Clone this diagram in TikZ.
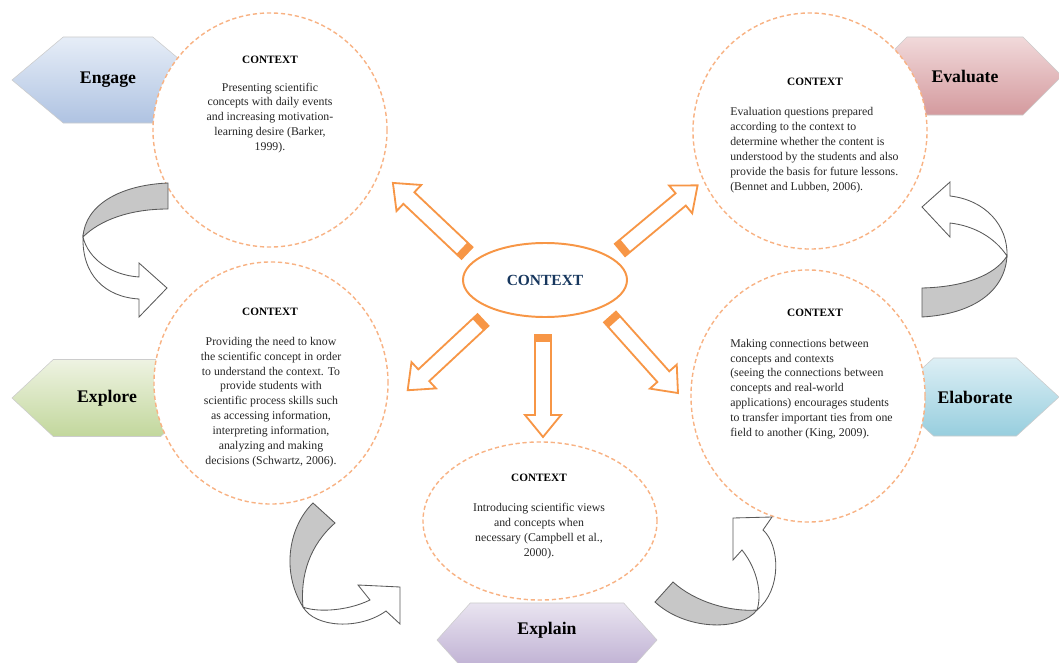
\documentclass[tikz,border=0pt]{standalone}
\usepackage{fontspec}
\setmainfont{Liberation Serif}
\usetikzlibrary{positioning,shapes.symbols,shapes.geometric}

\definecolor{ctxorange}{HTML}{F79646}
\definecolor{dashorange}{HTML}{F8B283}
\definecolor{ctxnavy}{HTML}{17375E}
\definecolor{engagetop}{HTML}{E6EDF7}
\definecolor{engagebot}{HTML}{AFC3E2}
\definecolor{evaltop}{HTML}{F1D9DA}
\definecolor{evalbot}{HTML}{D49A9E}
\definecolor{exploretop}{HTML}{EEF3E2}
\definecolor{explorebot}{HTML}{C2D79C}
\definecolor{elabtop}{HTML}{DDEFF5}
\definecolor{elabbot}{HTML}{97CEDE}
\definecolor{explaintop}{HTML}{E9E4F0}
\definecolor{explainbot}{HTML}{B9A9CF}

\begin{document}
\begin{tikzpicture}[x=0.025cm,y=-0.025cm,
    stage/.style={signal,signal to=west and east,inner sep=0pt,draw=black!20,font=\bfseries\fontsize{12.6}{14}\selectfont},
    ctx circle/.style={ellipse,draw=dashorange,line width=1pt,dash pattern=on 3pt off 2pt,fill=white,inner sep=0pt},
    ctx head/.style={font=\bfseries\fontsize{8}{9}\selectfont},
    ctx body/.style={font=\fontsize{8.4}{10.6}\selectfont,inner sep=0pt,text=black!85},
    ctx arrow/.style={draw=ctxorange,line width=1.3pt,fill=white,line join=miter},
    turn back/.style={draw=black!65,fill=black!22,line width=0.6pt},
    turn front/.style={draw=black!65,fill=white,line width=0.6pt}]
    \useasboundingbox (0,0) rectangle (1059,663);

    % stages
    \node[stage,top color=engagetop,bottom color=engagebot,minimum width=4.8cm,minimum height=2.15cm,signal pointer angle=80] (engage) at (108,80) {Engage};
    \node[stage,top color=evaltop,bottom color=evalbot,minimum width=4.85cm,minimum height=1.95cm,signal pointer angle=90] (evaluate) at (965,76) {Evaluate};
    \node[stage,top color=exploretop,bottom color=explorebot,minimum width=4.75cm,minimum height=1.925cm,signal pointer angle=86] (explore) at (107,398) {Explore};
    \node[stage,top color=elabtop,bottom color=elabbot,minimum width=4.2cm,minimum height=1.95cm,signal pointer angle=85] (elaborate) at (975,397) {Elaborate};
    \node[stage,top color=explaintop,bottom color=explainbot,minimum width=5.5cm,minimum height=1.85cm,signal pointer angle=96,
        label={[font=\bfseries\fontsize{12.6}{14}\selectfont,yshift=0.25cm]center:Explain}] (explain) at (547,640) {};

    % context circles
    \node[ctx circle,minimum width=5.85cm,minimum height=5.85cm] (c engage) at (270,130) {};
    \node[ctx circle,minimum width=5.85cm,minimum height=5.9cm] (c evaluate) at (810,131) {};
    \node[ctx circle,minimum width=5.85cm,minimum height=6.05cm] (c explore) at (271,383) {};
    \node[ctx circle,minimum width=5.85cm,minimum height=6.3cm] (c elaborate) at (808,396) {};
    \node[ctx circle,minimum width=5.85cm,minimum height=3.95cm] (c explain) at (540,521) {};

    % centre
    \node[ellipse,draw=ctxorange,line width=1.4pt,minimum width=4.1cm,minimum height=1.85cm,
        font=\bfseries\fontsize{11}{13}\selectfont,text=ctxnavy] (context) at (545,280) {CONTEXT};

    \foreach \sx/\sy/\ang/\len in {467/253/136.6/102, 620/250/39.8/101, 483/320/223/103, 543/335/270/102, 610/317/311.8/102}{
        \begin{scope}[shift={(\sx,\sy)},rotate=\ang]
            \draw[ctx arrow] (0,-8) -- (\len-22,-8) -- (\len-22,-18) -- (\len,0) -- (\len-22,18) -- (\len-22,8) -- (0,8) -- cycle;
            \fill[ctxorange] (0,-8) rectangle (7,8);
        \end{scope}
    }

    % turning arrows
    \draw[turn back] (168,183) .. controls (120,185) and (85,205) .. (83,237) .. controls (100,220) and (130,209) .. (168,209) -- cycle;
    \draw[turn front] (83,237) .. controls (82,275) and (105,297) .. (139,299) -- (139,317) -- (167,288) -- (139,263) -- (139,277) .. controls (110,275) and (88,258) .. (83,237) -- cycle;

    \draw[turn back] (922,288) -- (922,317) .. controls (975,314) and (1005,290) .. (1007,256) .. controls (995,275) and (965,287) .. (922,288) -- cycle;
    \draw[turn front] (1007,256) .. controls (1008,225) and (985,200) .. (950,196) -- (950,182) -- (922,207) -- (950,237) -- (950,223) .. controls (975,226) and (995,238) .. (1007,256) -- cycle;

    \draw[turn back] (313,503) .. controls (290,525) and (280,570) .. (303,607) .. controls (300,575) and (310,545) .. (335,523) -- cycle;
    \draw[turn front] (303,607) .. controls (315,628) and (360,630) .. (386,611) -- (400,624) -- (400,587) -- (358,585) -- (370,600) .. controls (345,612) and (315,612) .. (303,607) -- cycle;

    \draw[turn back] (673,582) .. controls (695,602) and (730,612) .. (757,610) .. controls (740,632) and (685,630) .. (655,602) -- cycle;
    \draw[turn front] (757,610) .. controls (782,590) and (780,545) .. (763,530) -- (772,517) -- (733,518) -- (733,560) -- (742,550) .. controls (758,570) and (762,595) .. (757,610) -- cycle;

    % texts
    \node[ctx head] (h engage) at (270,60) {CONTEXT};
    \node[ctx body,align=center] (t engage) at (270,118) {Presenting scientific\\concepts with daily events\\and increasing motivation-\\learning desire (Barker,\\1999).};

    \node[ctx head] (h evaluate) at (815,82) {CONTEXT};
    \node[ctx body,align=left,anchor=west] (t evaluate) at (730,150) {Evaluation questions prepared\\according to the context to\\determine whether the content is\\understood by the students and also\\provide the basis for future lessons.\\(Bennet and Lubben, 2006).};

    \node[ctx head] (h explore) at (270,312) {CONTEXT};
    \node[ctx body,align=center] (t explore) at (271,402) {Providing the need to know\\the scientific concept in order\\to understand the context. To\\provide students with\\scientific process skills such\\as accessing information,\\interpreting information,\\analyzing and making\\decisions (Schwartz, 2006).};

    \node[ctx head] (h elaborate) at (815,313) {CONTEXT};
    \node[ctx body,align=left,anchor=west] (t elaborate) at (730,389) {Making connections between\\concepts and contexts\\(seeing the connections between\\concepts and real-world\\applications) encourages students\\to transfer important ties from one\\field to another (King, 2009).};

    \node[ctx head] (h explain) at (539,478) {CONTEXT};
    \node[ctx body,align=center] (t explain) at (539,531) {Introducing scientific views\\and concepts when\\necessary (Campbell et al.,\\2000).};
\end{tikzpicture}
\end{document}
